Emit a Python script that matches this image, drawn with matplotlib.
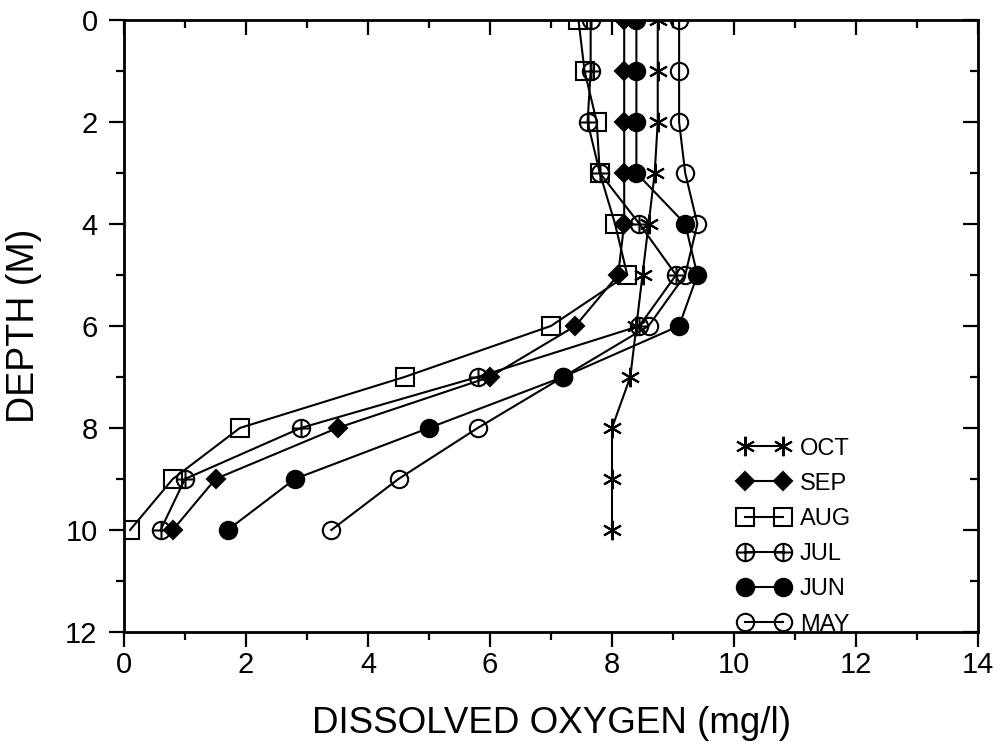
#!/usr/bin/env python3
"""
Dissolved oxygen profiles by month: DO (mg/l) against depth (m),
one line per sampling month, depth increasing downwards.
"""

import matplotlib
matplotlib.use('Agg')
import matplotlib.pyplot as plt
from matplotlib.path import Path
from matplotlib.ticker import MultipleLocator

# Sampling depths (m)
depth = [0, 1, 2, 3, 4, 5, 6, 7, 8, 9, 10]

# Dissolved oxygen (mg/l) at each depth
do_oct = [8.75, 8.75, 8.75, 8.7, 8.6, 8.5, 8.4, 8.3, 8.0, 8.0, 8.0]
do_sep = [8.2, 8.2, 8.2, 8.2, 8.2, 8.1, 7.4, 6.0, 3.5, 1.5, 0.8]
do_aug = [7.45, 7.55, 7.75, 7.8, 8.05, 8.25, 7.0, 4.6, 1.9, 0.8, 0.1]
do_jul = [7.65, 7.65, 7.6, 7.8, 8.45, 9.05, 8.45, 5.8, 2.9, 1.0, 0.6]
do_jun = [8.4, 8.4, 8.4, 8.4, 9.2, 9.4, 9.1, 7.2, 5.0, 2.8, 1.7]
do_may = [9.1, 9.1, 9.1, 9.2, 9.4, 9.2, 8.6, 7.2, 5.8, 4.5, 3.4]

months = ['OCT', 'SEP', 'AUG', 'JUL', 'JUN', 'MAY']

# circle with a cross inside (no built-in marker for this)
CIRCLE_PLUS = Path.make_compound_path(
    Path.unit_circle(),
    Path([[-1, 0], [1, 0]], [Path.MOVETO, Path.LINETO]),
    Path([[0, -1], [0, 1]], [Path.MOVETO, Path.LINETO]),
)

STYLES = {
    'OCT': dict(marker=(6, 2, 0), ms=14, mfc='none'),
    'SEP': dict(marker='D', ms=9.5, mfc='black'),
    'AUG': dict(marker='s', ms=12.5, mfc='none'),
    'JUL': dict(marker=CIRCLE_PLUS, ms=12.5, mfc='none'),
    'JUN': dict(marker='o', ms=12.5, mfc='black'),
    'MAY': dict(marker='o', ms=12.5, mfc='none'),
}

TICK_FONT = ['Liberation Sans', 'DejaVu Sans']


def plot_profiles(ax):
    values = {'OCT': do_oct, 'SEP': do_sep, 'AUG': do_aug,
              'JUL': do_jul, 'JUN': do_jun, 'MAY': do_may}
    for m in months:
        ax.plot(values[m], depth, color='black', lw=1.5, mec='black',
                mew=1.5, label=m, **STYLES[m])


def style_axes(ax):
    ax.set_xlim(0, 14)
    ax.set_ylim(12, 0)
    ax.xaxis.set_major_locator(MultipleLocator(2))
    ax.xaxis.set_minor_locator(MultipleLocator(1))
    ax.yaxis.set_major_locator(MultipleLocator(2))
    ax.yaxis.set_minor_locator(MultipleLocator(1))

    # outward ticks on bottom/left, inward on top/right
    ax.tick_params(which='both', top=True, right=True, width=1.6,
                   direction='out')
    ax.tick_params(which='major', length=11)
    ax.tick_params(which='minor', length=5.5)
    ax.tick_params(axis='x', labelsize=21, pad=3)
    ax.tick_params(axis='y', labelsize=21, pad=8)
    for t in ax.xaxis.get_major_ticks() + ax.xaxis.get_minor_ticks():
        t.tick2line.set_marker(3)
    for t in ax.yaxis.get_major_ticks() + ax.yaxis.get_minor_ticks():
        t.tick2line.set_marker(0)
    for lab in ax.get_xticklabels() + ax.get_yticklabels():
        lab.set_family(TICK_FONT)

    for sp in ax.spines.values():
        sp.set_linewidth(2)

    ax.set_xlabel('DISSOLVED OXYGEN (mg/l)', fontsize=26.5, family=TICK_FONT,
                  labelpad=19)
    ax.set_ylabel('DEPTH (M)', fontsize=27, family=TICK_FONT, labelpad=17)


def main():
    fig = plt.figure(figsize=(10, 7.51), dpi=100)
    ax = fig.add_axes([0.124, 0.1585, 0.854, 0.815])
    plot_profiles(ax)
    style_axes(ax)

    ax.legend(loc='lower left', bbox_to_anchor=(0.719, -0.006),
              borderaxespad=0, borderpad=0, frameon=False, numpoints=2,
              handlelength=2.2, handletextpad=0.42, labelspacing=0.56,
              prop={'family': TICK_FONT, 'size': 17})

    fig.savefig('out.png', dpi=100)


if __name__ == '__main__':
    main()
